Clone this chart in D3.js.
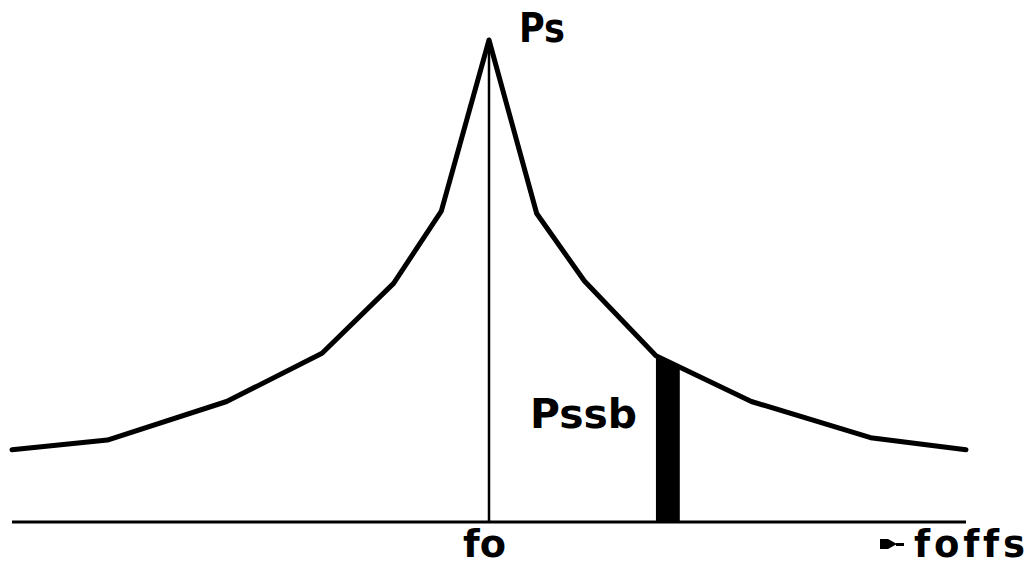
<!DOCTYPE html>
<html>
<head>
<meta charset="utf-8">
<script src="https://cdn.jsdelivr.net/npm/d3@7"></script>
<style>
  body { margin: 0; background: #fff; }
  text { font-family: "DejaVu Sans", sans-serif; font-weight: bold; fill: #000; font-variant-ligatures: none; }
</style>
</head>
<body>
<div id="chart-area"></div>
<script>
// spectrum around the carrier fo (offset units, relative power)
var offsets = [-10, -8, -5.5, -3.5, -2, -1, 0, 1, 2, 3.5, 5.5, 8, 10];
var power   = [15, 17, 25, 35, 49.5, 64.5, 100, 64, 50, 34.5, 25, 17.5, 15];
var sideband = [3.5, 4.0];   // Pssb slice
var labels = {carrier: "fo", axis: "foffs", peak: "Ps", ssb: "Pssb"};

var width = 1033;
var height = 566;

var svg = d3.select("#chart-area")
  .append("svg")
    .attr("width", width)
    .attr("height", height);

// Scales
var x = d3.scaleLinear()
  .domain([-10, 10])
  .range([12, 966]);

var y = d3.scaleLinear()
  .domain([0, 100])
  .range([522, 40]);

var data = offsets.map((o, i) => ({o: o, p: power[i]}));

// sideband slice: area under the curve clipped to the band
svg.append("clipPath")
    .attr("id", "ssb-clip")
  .append("rect")
    .attr("x", x(sideband[0]))
    .attr("y", 0)
    .attr("width", x(sideband[1]) - x(sideband[0]))
    .attr("height", y(0));

svg.append("path")
  .datum(data)
  .attr("clip-path", "url(#ssb-clip)")
  .attr("fill", "#000")
  .attr("d", d3.area().x(d => x(d.o)).y0(y(0)).y1(d => y(d.p)));

// carrier line
svg.append("line")
  .attr("x1", x(0)).attr("x2", x(0))
  .attr("y1", y(100)).attr("y2", y(0))
  .attr("stroke", "#000")
  .attr("stroke-width", 2.5);

// spectrum curve
svg.append("path")
  .datum(data)
  .attr("fill", "none")
  .attr("stroke", "#000")
  .attr("stroke-width", 5)
  .attr("stroke-linejoin", "round")
  .attr("stroke-linecap", "round")
  .attr("d", d3.line().x(d => x(d.o)).y(d => y(d.p)));

// baseline / frequency axis
svg.append("line")
  .attr("x1", x(-10)).attr("x2", x(10))
  .attr("y1", y(0)).attr("y2", y(0))
  .attr("stroke", "#000")
  .attr("stroke-width", 3);

// Labels
svg.append("text")
  .attr("x", x(0) + 30)
  .attr("y", 42)
  .style("font-size", "40px")
  .attr("textLength", 46)
  .attr("lengthAdjust", "spacingAndGlyphs")
  .text(labels.peak);

svg.append("text")
  .attr("x", 530)
  .attr("y", 428)
  .style("font-size", "40px")
  .attr("textLength", 107)
  .attr("lengthAdjust", "spacingAndGlyphs")
  .text(labels.ssb);

svg.append("text")
  .attr("x", x(0) - 26)
  .attr("y", 557)
  .style("font-size", "37px")
  .attr("textLength", 43)
  .attr("lengthAdjust", "spacingAndGlyphs")
  .text(labels.carrier);

svg.append("text")
  .attr("x", 914)
  .attr("y", 557)
  .style("font-size", "37px")
  .attr("textLength", 111)
  .attr("lengthAdjust", "spacing")
  .text(labels.axis);

// small arrow in front of foffs
svg.append("path")
  .attr("d", "M880,539 L888,539 L897,544 L888,549 L880,549 Z M896,543 L904,543 L904,546 L896,546 Z")
  .attr("fill", "#000");
</script>
</body>
</html>
